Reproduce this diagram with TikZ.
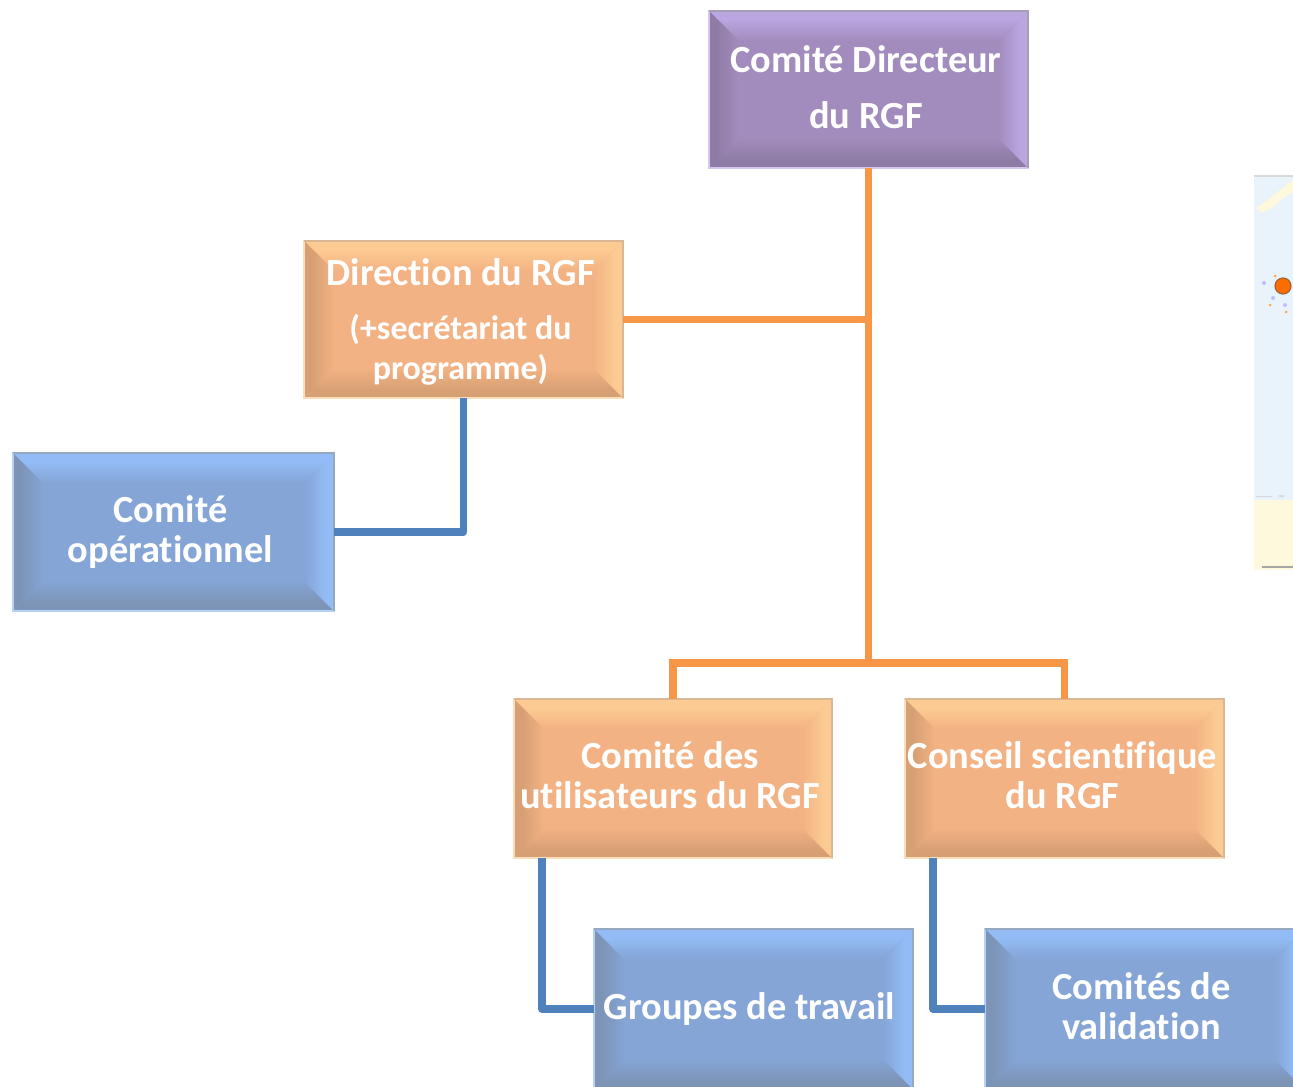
\documentclass[tikz,border=0pt]{standalone}
\usepackage{fontspec}
\setmainfont[Ligatures=NoCommon]{Carlito}
\definecolor{purpleC}{HTML}{A28CBD}
\definecolor{purpleL}{HTML}{BAA6E0}
\definecolor{purpleD}{HTML}{8E7CA6}
\definecolor{purpleE}{HTML}{D5C8EE}
\definecolor{purpleG}{HTML}{A79DB5}
\definecolor{orangeC}{HTML}{F3B283}
\definecolor{orangeL}{HTML}{FCCB93}
\definecolor{orangeD}{HTML}{D6A074}
\definecolor{orangeE}{HTML}{FBDDB8}
\definecolor{orangeG}{HTML}{D9B795}
\definecolor{blueC}{HTML}{84A5D6}
\definecolor{blueL}{HTML}{93BCF6}
\definecolor{blueD}{HTML}{7D94B6}
\definecolor{blueE}{HTML}{B5D2F6}
\definecolor{blueG}{HTML}{94A8C0}
\definecolor{lineO}{HTML}{F79646}
\definecolor{lineB}{HTML}{4F81BD}
\definecolor{mapSea}{HTML}{E8F3FB}
\definecolor{mapLand}{HTML}{FEF8DC}
\newcommand{\smallline}{\fontsize{17}{19.5}\selectfont}
\tikzset{
  boxshape/.style={inner sep=0pt,draw=none},
  boxtext/.style={text=white,font=\fontsize{19.2}{20}\selectfont\bfseries,align=center,inner sep=0pt},
  orangeline/.style={draw=lineO,line width=3.6pt},
  blueline/.style={draw=lineB,line width=3.8pt,line join=round},
}
% name, x0, y0, x1, y1, colour prefix, text, text dx, text dy
\newcommand{\bevelbox}[9]{%
  \pgfmathsetmacro{\bvax}{#2+30}\pgfmathsetmacro{\bvay}{#3+30}%
  \pgfmathsetmacro{\bvbx}{#4-30}\pgfmathsetmacro{\bvby}{#5-30}%
  \pgfmathsetmacro{\bvcx}{#2+8}\pgfmathsetmacro{\bvcy}{#3+8}%
  \pgfmathsetmacro{\bvdx}{#4-8}\pgfmathsetmacro{\bvdy}{#5-8}%
  \pgfmathsetmacro{\bvmx}{(#2+#4)/2}\pgfmathsetmacro{\bvmy}{(#3+#5)/2}%
  \pgfmathsetmacro{\bvtx}{\bvmx+#8}\pgfmathsetmacro{\bvty}{\bvmy+#9}%
  \pgfmathsetmacro{\bvw}{(#4-#2)*0.5}\pgfmathsetmacro{\bvh}{(#5-#3)*0.5}%
  \fill[#6C] (#2,#3) rectangle (#4,#5);
  \begin{scope}\clip (#2,#3)--(#4,#3)--(\bvbx,\bvay)--(\bvax,\bvay)--cycle;
    \fill[#6L] (#2,#3) rectangle (#4,\bvcy);
    \shade[top color=#6L,bottom color=#6C] (#2,\bvcy) rectangle (#4,\bvay);\end{scope}
  \begin{scope}\clip (#2,#5)--(#4,#5)--(\bvbx,\bvby)--(\bvax,\bvby)--cycle;
    \fill[#6D] (#2,\bvdy) rectangle (#4,#5);
    \shade[top color=#6C,bottom color=#6D] (#2,\bvby) rectangle (#4,\bvdy);\end{scope}
  \begin{scope}\clip (#2,#3)--(\bvax,\bvay)--(\bvax,\bvby)--(#2,#5)--cycle;
    \fill[#6D] (#2,#3) rectangle (\bvcx,#5);
    \shade[left color=#6D,right color=#6C] (\bvcx,#3) rectangle (\bvax,#5);\end{scope}
  \begin{scope}\clip (#4,#3)--(\bvbx,\bvay)--(\bvbx,\bvby)--(#4,#5)--cycle;
    \fill[#6L] (\bvdx,#3) rectangle (#4,#5);
    \shade[left color=#6C,right color=#6L] (\bvbx,#3) rectangle (\bvdx,#5);\end{scope}
  \draw[#6E,line width=1.4pt] (#2,#3) rectangle (#4,#5);
  \draw[#6G,line width=1.4pt] (#2,#3) -- (#4,#3) -- (#4,#5);
  \node[boxshape,minimum width=\bvw pt,minimum height=\bvh pt] (#1) at (\bvmx,\bvmy) {};
  \node[boxtext] (#1text) at (\bvtx,\bvty) {#7};
}
\begin{document}
\begin{tikzpicture}[x=0.5pt,y=-0.5pt]
\useasboundingbox (0,0) rectangle (1293,1086);
\clip (0,0) rectangle (1293,1086);
% map fragment
\fill[mapSea] (1254,175) rectangle (1293,570);
\fill[mapLand] (1254,500) rectangle (1293,570);
\fill[black!15] (1254,175) rectangle (1293,177);
\fill[mapLand] (1293,180)--(1280,190)--(1268,200)--(1256,208)--(1262,213)--(1272,208)--(1283,198)--(1293,192)--cycle;
\fill[orange!70!white] (1270,305) circle (1.5) (1275,276) circle (1.5) (1286,312) circle (1.5);
\fill[blue!25!white] (1264,283) circle (2) (1285,305) circle (2) (1273,298) circle (2);
\fill[orange!85!red,draw=brown!80!black,line width=0.6pt] (1283,286) circle (8);
\fill[black!35] (1262,566) rectangle (1293,568);
\fill[black!15] (1256,496) rectangle (1272,497) (1279,495) rectangle (1284,497);
% boxes
\bevelbox{dir}{709}{11}{1028}{168}{purple}{Comité Directeur\\[8pt]du RGF}{-2.5}{-2}
\bevelbox{drgf}{304}{241}{623}{398}{orange}{Direction du RGF\\[7pt]\smallline (+secrétariat du\\\smallline programme)}{-3}{2}
\bevelbox{oper}{13}{453}{334}{611}{blue}{Comité\\opérationnel}{-3}{0}
\bevelbox{util}{514}{699}{832}{858}{orange}{Comité des\\utilisateurs du RGF}{-3}{-3}
\bevelbox{cons}{905}{699}{1224}{858}{orange}{Conseil scientifique\\du RGF}{-2}{-3}
\bevelbox{grp}{594}{929}{913}{1089}{blue}{Groupes de travail}{-4}{0}
\bevelbox{val}{985}{929}{1304}{1089}{blue}{Comités de\\validation}{-3}{-3}
% connectors
\coordinate (bus) at (868,663);
\coordinate (utilb) at (542,858);
\coordinate (consb) at (933,858);
\draw[orangeline] (dir.south) -- (dir.south |- bus);
\draw[orangeline] (drgf.east) -- (drgf.east -| dir.south);
\draw[orangeline] (util.north) |- (bus) -| (cons.north);
\draw[blueline] (drgf.south) |- (oper.east);
\draw[blueline] (utilb) |- (grp.west);
\draw[blueline] (consb) |- (val.west);
\end{tikzpicture}
\end{document}
